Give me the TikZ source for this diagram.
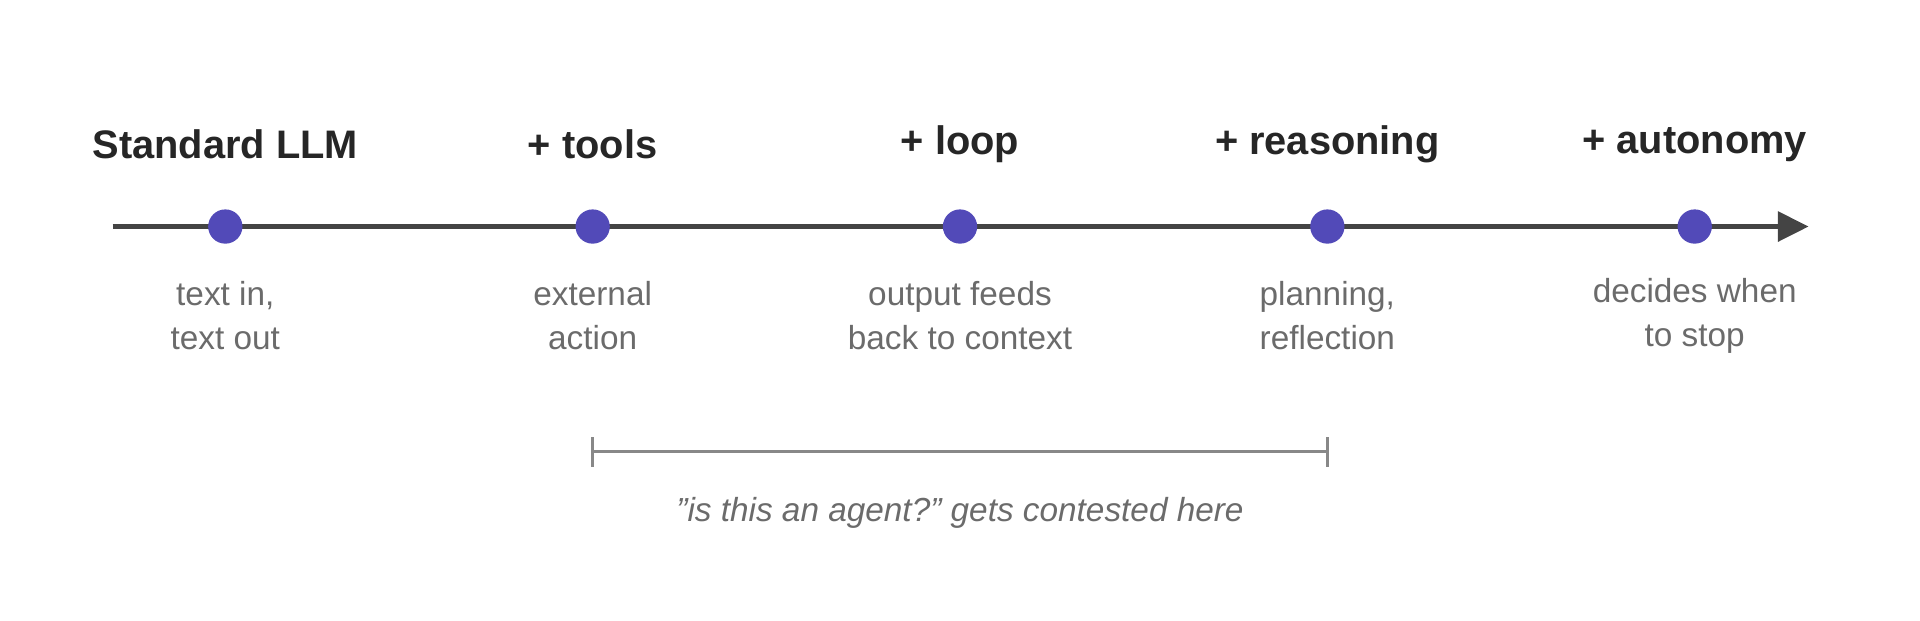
\documentclass[tikz,border=0pt]{standalone}
\usepackage{fontspec}
\setmainfont{Liberation Sans}
\usetikzlibrary{arrows.meta}
\definecolor{dotc}{HTML}{524AB8}
\definecolor{axisc}{HTML}{444444}
\definecolor{descc}{HTML}{6B6B6B}
\definecolor{brc}{HTML}{888888}
\tikzset{
 title/.style={font=\fontsize{18.5}{22}\selectfont\bfseries, text=black!85},
 desc/.style={font=\fontsize{15.5}{20.5}\selectfont, text=descc, align=center},
 dot/.style={circle, fill=dotc, minimum size=0.56cm, inner sep=0pt},
}
\begin{document}
\begin{tikzpicture}[x=0.02cm,y=-0.02cm]
\useasboundingbox (0,0) rectangle (1568,507);
\coordinate (s) at (92,185);
\coordinate (e) at (1477,185);
\draw[axisc, line width=2.2pt, -{Triangle[length=0.5cm,width=0.48cm]}] (s) -- (e);
\foreach \n/\x/\t/\d in {a/184/Standard LLM/{text in,\\text out}, b/484/+ tools/{external\\action}, c/784/+ loop/{output feeds\\back to context}, d/1084/+ reasoning/{planning,\\reflection}, f/1384/+ autonomy/{decides when\\to stop}}{
  \node[dot] (\n) at (\x,185) {};
  \node[title] (t\n) at (\x,118) {\t};
  \node[desc] (d\n) at (\x,258) {\d};
}
\coordinate (bl) at (484,369);
\coordinate (br) at (1084,369);
\draw[brc, line width=1.3pt] (bl) -- (br);
\draw[brc, line width=1.3pt] ([yshift=0.24cm]bl) -- ([yshift=-0.24cm]bl);
\draw[brc, line width=1.3pt] ([yshift=0.24cm]br) -- ([yshift=-0.24cm]br);
\node[font=\fontsize{15.5}{19}\selectfont\itshape, text=descc] (q) at (784,419) {"is this an agent?" gets contested here};
\end{tikzpicture}
\end{document}
